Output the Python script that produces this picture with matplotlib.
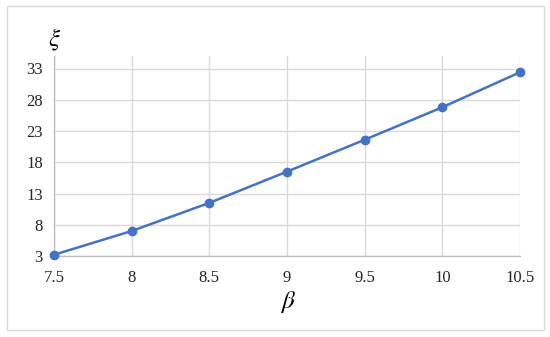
import matplotlib.pyplot as plt
from matplotlib.patches import Rectangle

beta = [7.5, 8, 8.5, 9, 9.5, 10, 10.5]
xi = [3.2, 7.0, 11.5, 16.5, 21.6, 26.8, 32.4]
yticks = [3, 8, 13, 18, 23, 28, 33]

plt.rcParams['font.family'] = ['Liberation Serif', 'DejaVu Serif']
plt.rcParams['mathtext.fontset'] = 'stix'

fig = plt.figure(figsize=(5.5, 3.37), dpi=100)
fig.patches.append(Rectangle((7 / 550, 1 - 330 / 337), 537 / 550, 324 / 337,
                             transform=fig.transFigure, fill=False,
                             edgecolor='#d9d9d9', linewidth=1))
ax = fig.add_axes([54 / 550, 1 - 256 / 337, 466 / 550, 200 / 337])

ax.plot(beta, xi, color='#4472c4', linewidth=1.8, marker='o', markersize=6,
        clip_on=False, zorder=3)

ax.set_xlim(7.5, 10.5)
ax.set_ylim(3, 35)
ax.set_xticks(beta)
ax.set_xticklabels(['7.5', '8', '8.5', '9', '9.5', '10', '10.5'])
ax.set_yticks(yticks)
ax.grid(True, color='#d9d9d9', linewidth=1)
ax.set_axisbelow(True)
for s in ['top', 'right']:
    ax.spines[s].set_visible(False)
for s in ['left', 'bottom']:
    ax.spines[s].set_color('#bfbfbf')
    ax.spines[s].set_linewidth(1)
ax.tick_params(length=0, labelsize=12, colors='#262626', pad=8)
ax.tick_params(axis='x', pad=10)

fig.text(55 / 550, 1 - 40 / 337, r'$\xi$', fontsize=18, ha='center', va='center')
fig.text(288 / 550, 1 - 302 / 337, r'$\beta$', fontsize=18, ha='center', va='center')

fig.savefig('out.png', dpi=100)
